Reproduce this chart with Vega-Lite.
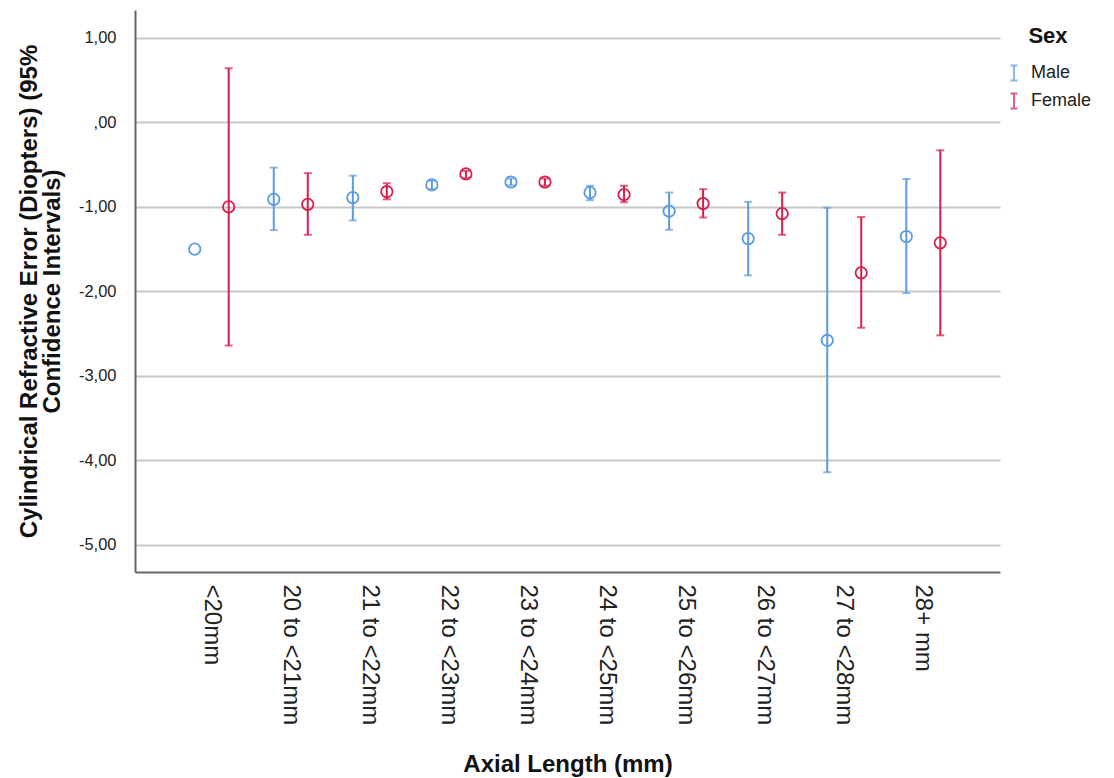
{
  "$schema": "https://vega.github.io/schema/vega-lite/v6.json",
  "autosize": "none",
  "width": 865,
  "height": 562,
  "padding": {"left": 135, "top": 10, "right": 114, "bottom": 206},
  "background": "white",
  "config": {
    "font": "Liberation Sans",
    "view": {"stroke": null},
    "axis": {"domainColor": "#666666", "domainWidth": 2, "ticks": false, "labelColor": "#222222", "titleColor": "#111111"}
  },
  "data": {
    "values": [
      {"cat": "<20mm", "sex": "Male", "mean": -1.50, "lo": null, "hi": null},
      {"cat": "<20mm", "sex": "Female", "mean": -1.00, "lo": -2.64, "hi": 0.64},
      {"cat": "20 to <21mm", "sex": "Male", "mean": -0.91, "lo": -1.275, "hi": -0.535},
      {"cat": "20 to <21mm", "sex": "Female", "mean": -0.97, "lo": -1.33, "hi": -0.60},
      {"cat": "21 to <22mm", "sex": "Male", "mean": -0.89, "lo": -1.16, "hi": -0.63},
      {"cat": "21 to <22mm", "sex": "Female", "mean": -0.82, "lo": -0.91, "hi": -0.72},
      {"cat": "22 to <23mm", "sex": "Male", "mean": -0.74, "lo": -0.79, "hi": -0.69},
      {"cat": "22 to <23mm", "sex": "Female", "mean": -0.61, "lo": -0.66, "hi": -0.575},
      {"cat": "23 to <24mm", "sex": "Male", "mean": -0.705, "lo": -0.745, "hi": -0.665},
      {"cat": "23 to <24mm", "sex": "Female", "mean": -0.705, "lo": -0.75, "hi": -0.665},
      {"cat": "24 to <25mm", "sex": "Male", "mean": -0.83, "lo": -0.92, "hi": -0.75},
      {"cat": "24 to <25mm", "sex": "Female", "mean": -0.855, "lo": -0.945, "hi": -0.75},
      {"cat": "25 to <26mm", "sex": "Male", "mean": -1.05, "lo": -1.27, "hi": -0.83},
      {"cat": "25 to <26mm", "sex": "Female", "mean": -0.96, "lo": -1.125, "hi": -0.79},
      {"cat": "26 to <27mm", "sex": "Male", "mean": -1.375, "lo": -1.81, "hi": -0.94},
      {"cat": "26 to <27mm", "sex": "Female", "mean": -1.08, "lo": -1.33, "hi": -0.83},
      {"cat": "27 to <28mm", "sex": "Male", "mean": -2.58, "lo": -4.14, "hi": -1.01},
      {"cat": "27 to <28mm", "sex": "Female", "mean": -1.78, "lo": -2.43, "hi": -1.12},
      {"cat": "28+ mm", "sex": "Male", "mean": -1.35, "lo": -2.02, "hi": -0.67},
      {"cat": "28+ mm", "sex": "Female", "mean": -1.425, "lo": -2.52, "hi": -0.33}
    ]
  },
  "encoding": {
    "x": {
      "field": "cat", "type": "nominal", "sort": null,
      "scale": {"paddingInner": 0, "paddingOuter": 0.47},
      "axis": {
        "title": "Axial Length (mm)", "titleFontSize": 24, "titleFontWeight": "bold", "titlePadding": 28,
        "labelAngle": 90, "labelAlign": "left", "labelBaseline": "middle", "labelFontSize": 24, "labelPadding": 12,
        "grid": false
      }
    },
    "xOffset": {"field": "sex", "type": "nominal", "sort": ["Male", "Female"], "scale": {"paddingOuter": 0.163, "paddingInner": 0}},
    "color": {
      "field": "sex", "type": "nominal", "sort": ["Male", "Female"],
      "scale": {"domain": ["Male", "Female"], "range": ["#5b9be2", "#d81e4c"]},
      "legend": {
        "title": "Sex", "titleFontSize": 22, "titleFontWeight": "bold", "titleColor": "#111111", "titleAnchor": "middle",
        "labelFontSize": 18, "labelColor": "#222222", "labelOffset": 8,
        "orient": "none", "legendX": 870, "legendY": 16,
        "symbolType": "M-0.45,-1H0.45M0,-1V1M-0.45,1H0.45", "symbolSize": 230, "symbolStrokeWidth": 2,
        "rowPadding": 4, "titlePadding": 16
      }
    }
  },
  "layer": [
    {
      "mark": {"type": "rule", "strokeWidth": 2},
      "encoding": {
        "y": {
          "field": "lo", "type": "quantitative",
          "scale": {"domain": [-5.32, 1.33], "nice": false, "zero": false},
          "axis": {
            "title": ["Cylindrical Refractive Error (Diopters) (95%", "Confidence Intervals)"],
            "titleFontSize": 24, "titleFontWeight": "bold", "titlePadding": 14, "titleLineHeight": 23,
            "values": [-5, -4, -3, -2, -1, 0, 1],
            "labelExpr": "datum.value == 0 ? ',00' : replace(replace(format(datum.value, '.2f'), '.', ','), '\u2212', '-')",
            "labelFontSize": 16.5, "labelPadding": 19,
            "grid": true, "gridColor": "#c8c8c8", "gridWidth": 2
          }
        },
        "y2": {"field": "hi"}
      }
    },
    {
      "mark": {"type": "tick", "size": 8, "thickness": 2},
      "encoding": {"y": {"field": "lo", "type": "quantitative"}}
    },
    {
      "mark": {"type": "tick", "size": 8, "thickness": 2},
      "encoding": {"y": {"field": "hi", "type": "quantitative"}}
    },
    {
      "mark": {"type": "point", "filled": false, "size": 130, "strokeWidth": 1.8, "opacity": 1},
      "encoding": {"y": {"field": "mean", "type": "quantitative"}}
    }
  ]
}
